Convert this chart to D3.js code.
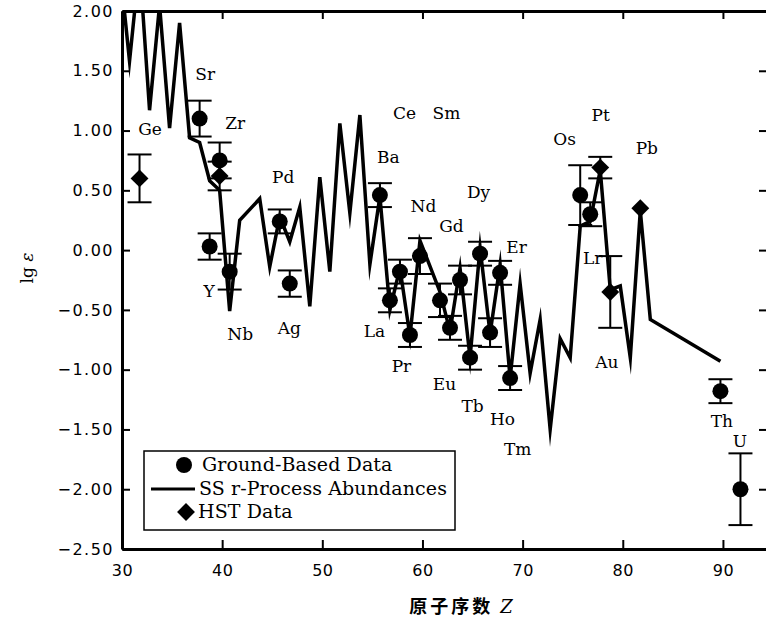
<!DOCTYPE html>
<html>
<head>
<meta charset="utf-8">
<script src="https://cdn.jsdelivr.net/npm/d3@7"></script>
<style>
  body { margin: 0; background: #fff; }
  .tick text { font-family: "DejaVu Sans", sans-serif; font-size: 16px; fill: #000; }
  .el { font-family: "DejaVu Serif", serif; font-size: 17px; fill: #000; }
</style>
</head>
<body>
<div id="chart"></div>
<script>
const width = 766, height = 620;

// SS r-process abundance curve (atomic number, lg eps)
const ssZ   = [30, 31, 32, 33, 34, 35, 36, 37, 38, 39, 40, 41, 42, 44, 45, 46, 47, 48, 49, 50,
               51, 52, 53, 54, 55, 56, 57, 58, 59, 60, 62, 63, 64, 65, 66, 67, 68, 69, 70,
               71, 72, 73, 74, 75, 76, 77, 78, 79, 80, 81, 82, 83, 90];
const ssVal = [2.40, 1.58, 2.40, 1.17, 2.05, 1.02, 1.90, 0.94, 0.90, 0.58, 0.50, -0.51, 0.25, 0.43, -0.14, 0.28, 0.07, 0.36, -0.47, 0.61,
               -0.18, 1.06, 0.31, 1.13, -0.12, 0.45, -0.50, -0.15, -0.72, 0.08, -0.35, -0.68, -0.15, -0.90, 0.02, -0.70, -0.12, -1.07, -0.28,
               -1.03, -0.58, -1.50, -0.74, -0.90, 0.20, 0.24, 0.67, -0.33, -0.30, -0.90, 0.33, -0.58, -0.93];

// ground-based data
const gbZ   = [38, 39, 40, 41, 46, 47, 56, 57, 58, 59, 60, 62, 63, 64, 65, 66, 67, 68, 69, 76, 77, 90, 92];
const gbVal = [1.10, 0.03, 0.75, -0.18, 0.24, -0.28, 0.46, -0.42, -0.18, -0.71, -0.05, -0.42, -0.65, -0.25, -0.90, -0.03, -0.69, -0.19, -1.07, 0.46, 0.30, -1.18, -2.00];
const gbErr = [0.15, 0.11, 0.15, 0.15, 0.10, 0.11, 0.10, 0.10, 0.10, 0.10, 0.15, 0.14, 0.10, 0.12, 0.10, 0.10, 0.12, 0.10, 0.10, 0.25, 0.10, 0.10, 0.30];

// HST data
const hstZ   = [32, 40, 78, 79, 82];
const hstVal = [0.60, 0.62, 0.69, -0.35, 0.35];
const hstErr = [0.20, 0.12, 0.09, 0.30, 0];

// element labels: name, Z, lg eps of the text baseline
const labelNames = ["Ge", "Sr", "Zr", "Pd", "Y", "Nb", "Ag", "Ce", "Sm", "Ba", "Nd", "Dy", "Gd", "Er",
                    "La", "Pr", "Eu", "Tb", "Ho", "Tm", "Os", "Pt", "Pb", "Lr", "Au", "Th", "U"];
const labelZ = [32.8, 38.3, 41.3, 46.1, 38.7, 41.8, 46.7, 58.2, 62.4, 56.6, 60.1, 65.6, 62.9, 69.4,
                55.2, 57.9, 62.2, 65.0, 68.0, 69.5, 74.2, 77.8, 82.4, 77.0, 78.4, 89.9, 91.7];
const labelV = [0.96, 1.42, 1.01, 0.56, -0.39, -0.75, -0.70, 1.10, 1.10, 0.73, 0.32, 0.44, 0.15, -0.02,
                -0.73, -1.02, -1.17, -1.35, -1.46, -1.71, 0.88, 1.08, 0.80, -0.12, -0.99, -1.48, -1.65];

const xTicks = [30, 40, 50, 60, 70, 80, 90];
const yTicks = [2.0, 1.5, 1.0, 0.5, 0.0, -0.5, -1.0, -1.5, -2.0, -2.5];

const svg = d3.select("#chart")
  .append("svg")
  .attr("width", width)
  .attr("height", height);

const x = d3.scaleLinear().domain([30, 94.4]).range([122, 767]);
// marks sit a little left of the printed ticks in the original figure
const xd = d3.scaleLinear().domain([30, 94.4]).range([119.5, 764.5]);
const y = d3.scaleLinear().domain([-2.5, 2.0]).range([549, 11]);

const fmtY = d => (d < 0 ? "\u2212" : "") + d3.format(".2f")(Math.abs(d));

// axes
const gx = svg.append("g")
  .attr("transform", `translate(0,${y(-2.5)})`)
  .call(d3.axisBottom(x).tickValues(xTicks).tickSizeInner(-9).tickSizeOuter(0).tickPadding(16).tickFormat(d3.format("d")));
const gy = svg.append("g")
  .attr("transform", `translate(${x(30)},0)`)
  .call(d3.axisLeft(y).tickValues(yTicks).tickSizeInner(-8).tickSizeOuter(0).tickPadding(8).tickFormat(fmtY));
const gt = svg.append("g")
  .attr("transform", `translate(0,${y(2.0)})`)
  .call(d3.axisTop(x).tickValues(xTicks).tickSizeInner(-8).tickSizeOuter(0).tickFormat(""));
const gr = svg.append("g")
  .attr("transform", `translate(${x(94.4)},0)`)
  .call(d3.axisRight(y).tickValues(yTicks).tickSizeInner(-8).tickSizeOuter(0).tickFormat(""));

[gx, gy, gt, gr].forEach(g => {
  g.select(".domain").attr("stroke", "#000").attr("stroke-width", 3);
  g.selectAll(".tick line").attr("stroke", "#000").attr("stroke-width", 2);
});
gy.selectAll(".tick text").attr("font-size", "17px").attr("letter-spacing", "1.5px");
gx.selectAll(".tick text").attr("letter-spacing", "0.5px");

// clip the curve to the plot frame
svg.append("clipPath").attr("id", "plot-clip")
  .append("rect")
  .attr("x", x(30)).attr("y", y(2.0))
  .attr("width", x(94.4) - x(30)).attr("height", y(-2.5) - y(2.0));

const ssData = ssZ.map((z, i) => ({ z: z, v: ssVal[i] }));
const line = d3.line().x(d => xd(d.z)).y(d => y(d.v));

svg.append("path")
  .datum(ssData)
  .attr("clip-path", "url(#plot-clip)")
  .attr("fill", "none")
  .attr("stroke", "#000")
  .attr("stroke-width", 3.5)
  .attr("stroke-linejoin", "miter")
  .attr("stroke-miterlimit", 10)
  .attr("d", line);

// error bars
function errorBars(zs, vs, es) {
  const data = zs.map((z, i) => ({ z: z, v: vs[i], e: es[i] })).filter(d => d.e > 0);
  const g = svg.append("g").attr("stroke", "#000").attr("stroke-width", 2);
  g.selectAll(".stem").data(data).join("line")
    .attr("x1", d => xd(d.z)).attr("x2", d => xd(d.z))
    .attr("y1", d => y(d.v + d.e)).attr("y2", d => y(d.v - d.e));
  g.selectAll(".capt").data(data).join("line")
    .attr("x1", d => xd(d.z) - 12).attr("x2", d => xd(d.z) + 12)
    .attr("y1", d => y(d.v + d.e)).attr("y2", d => y(d.v + d.e));
  g.selectAll(".capb").data(data).join("line")
    .attr("x1", d => xd(d.z) - 12).attr("x2", d => xd(d.z) + 12)
    .attr("y1", d => y(d.v - d.e)).attr("y2", d => y(d.v - d.e));
}
errorBars(gbZ, gbVal, gbErr);
errorBars(hstZ, hstVal, hstErr);

const diamond = d3.symbol().type(d3.symbolSquare).size(160);

svg.append("g").selectAll("circle")
  .data(gbZ.map((z, i) => ({ z: z, v: gbVal[i] })))
  .join("circle")
  .attr("cx", d => xd(d.z))
  .attr("cy", d => y(d.v))
  .attr("r", 8)
  .attr("fill", "#000");

svg.append("g").selectAll("path")
  .data(hstZ.map((z, i) => ({ z: z, v: hstVal[i] })))
  .join("path")
  .attr("d", diamond)
  .attr("transform", d => `translate(${xd(d.z)},${y(d.v)}) rotate(45)`)
  .attr("fill", "#000");

// element labels
svg.append("g").selectAll("text")
  .data(labelNames.map((n, i) => ({ n: n, z: labelZ[i], v: labelV[i] })))
  .join("text")
  .attr("class", "el")
  .attr("x", d => x(d.z))
  .attr("y", d => y(d.v))
  .attr("text-anchor", "middle")
  .text(d => d.n);

// legend
const lg = svg.append("g");
lg.append("rect")
  .attr("x", 144).attr("y", 451).attr("width", 311).attr("height", 79)
  .attr("fill", "#fff").attr("stroke", "#000").attr("stroke-width", 1.5);
lg.append("circle").attr("cx", 184).attr("cy", 465).attr("r", 8).attr("fill", "#000");
lg.append("line").attr("x1", 151).attr("x2", 195).attr("y1", 489).attr("y2", 489)
  .attr("stroke", "#000").attr("stroke-width", 3);
lg.append("path").attr("d", diamond).attr("transform", "translate(186,512) rotate(45)").attr("fill", "#000");
const legendText = ["Ground-Based Data", "SS r-Process Abundances", "HST Data"];
const legendX = [202, 199, 198];
const legendY = [471, 495, 518];
legendText.forEach((t, i) => {
  lg.append("text").attr("class", "el")
    .style("font-size", "19px").attr("letter-spacing", "0.1px")
    .attr("x", legendX[i]).attr("y", legendY[i]).text(t);
});

// axis titles
svg.append("text")
  .attr("transform", "translate(33,268) rotate(-90)")
  .attr("text-anchor", "middle")
  .attr("font-family", "DejaVu Serif, serif")
  .attr("font-size", "17px")
  .html('lg <tspan font-style="italic">ε</tspan>');

const xt = svg.append("text")
  .attr("x", 461).attr("y", 613)
  .attr("text-anchor", "middle")
  .attr("font-size", "18px");
xt.append("tspan").attr("font-family", "Noto Sans CJK SC").attr("font-weight", "bold")
  .attr("letter-spacing", "3px").text("原子序数 ");
xt.append("tspan").attr("font-family", "DejaVu Serif, serif").attr("font-style", "italic").text("Z");
</script>
</body>
</html>
